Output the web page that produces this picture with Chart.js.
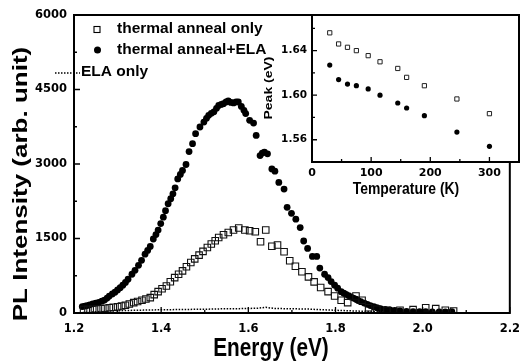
<!DOCTYPE html>
<html><head><meta charset="utf-8">
<script src="https://cdn.jsdelivr.net/npm/chart.js@4/dist/chart.umd.min.js"></script>
<style>
html,body{margin:0;padding:0;background:#fff;}
#wrap{position:relative;width:529px;height:364px;background:#fff;}
#main{position:absolute;left:0;top:0;width:529px;height:364px;}
#inset{position:absolute;left:240px;top:0;width:289px;height:210px;}
</style></head><body>
<div id="wrap"><canvas id="main" width="529" height="364"></canvas><canvas id="inset" width="289" height="210"></canvas></div>
<script>
// ---------- main panel data ----------
const annealOnlyE = [1.222,1.232,1.243,1.252,1.262,1.271,1.281,1.290,1.300,1.309,1.318,1.327,1.337,1.346,1.356,1.365,1.375,1.384,1.393,1.402,1.412,1.421,1.431,1.440,1.449,1.458,1.468,1.477,1.487,1.496,1.506,1.515,1.524,1.532,1.543,1.554,1.566,1.578,1.592,1.603,1.616,1.628,1.640,1.654,1.667,1.682,1.695,1.708,1.723,1.738,1.751,1.766,1.783,1.798,1.813,1.828,1.847,1.861,1.876,1.895,1.918,1.948,1.978,2.007,2.030,2.052,2.071];
const annealOnlyI = [70,72,75,80,87,96,107,117,127,140,155,180,208,232,256,282,309,370,430,488,545,630,713,780,848,930,1016,1090,1165,1240,1319,1390,1455,1521,1576,1622,1670,1711,1670,1656,1636,1434,1670,1345,1370,1232,1051,940,830,727,626,512,430,343,256,208,343,256,107,75,54,54,67,107,88,54,40];

const annealElaE = [1.219,1.225,1.230,1.236,1.243,1.250,1.257,1.264,1.270,1.276,1.281,1.288,1.294,1.300,1.306,1.312,1.318,1.324,1.333,1.340,1.348,1.355,1.363,1.369,1.375,1.382,1.388,1.393,1.399,1.405,1.410,1.416,1.422,1.427,1.432,1.438,1.444,1.449,1.457,1.464,1.472,1.479,1.489,1.498,1.504,1.509,1.515,1.521,1.527,1.532,1.538,1.543,1.549,1.554,1.560,1.566,1.572,1.577,1.584,1.590,1.594,1.603,1.612,1.618,1.627,1.632,1.637,1.644,1.654,1.661,1.670,1.682,1.689,1.699,1.709,1.719,1.727,1.736,1.747,1.757,1.764,1.775,1.783,1.790,1.798,1.805,1.813,1.819,1.824,1.830,1.835,1.841,1.847,1.852,1.858,1.866,1.873,1.880,1.888,1.895,1.903,1.914,1.925,1.936,1.948,1.963,1.978,1.993,2.007,2.022,2.038,2.052,2.067];
const annealElaI = [130,140,150,165,185,200,215,238,260,300,340,385,420,465,510,560,615,680,780,860,960,1060,1185,1260,1340,1490,1580,1670,1800,1930,2060,2200,2300,2400,2520,2700,2790,2870,2990,3250,3410,3610,3745,3845,3920,3980,4020,4050,4120,4180,4200,4215,4250,4270,4240,4230,4250,4250,4160,4080,4015,3880,3825,3575,3170,3220,3240,3205,2900,2855,2630,2495,2127,2006,1890,1720,1450,1300,1140,1140,905,780,713,632,560,499,430,400,377,350,323,300,277,250,228,200,175,150,128,108,88,72,61,50,40,32,27,27,27,23,20,22,27];

const elaOnlyE = [1.22,1.24,1.26,1.28,1.30,1.32,1.34,1.36,1.38,1.40,1.42,1.44,1.46,1.48,1.50,1.52,1.54,1.56,1.58,1.60,1.62,1.64,1.66,1.68,1.70,1.72,1.74,1.76,1.78,1.80,1.82,1.84,1.86,1.88,1.90,1.92,1.94,1.96,1.98,2.00,2.02,2.04,2.06];
const elaOnlyI = [10,20,30,38,45,50,55,58,62,65,66,70,72,74,76,80,84,86,88,92,95,115,90,88,86,82,78,70,62,55,48,42,36,30,25,22,20,18,16,15,14,12,10];

const mainXTicks = [1.2,1.4,1.6,1.8,2.0,2.2];
const mainXMinor = [1.3,1.5,1.7,1.9,2.1];
const mainYTicks = [0,1500,3000,4500,6000];
const mainYMinor = [750,2250,3750,5250];

// ---------- inset data ----------
const insetTemp = [30,45,60,75,95,115,145,160,190,245,300];
const insetPeakAnneal = [1.656,1.646,1.643,1.640,1.6355,1.630,1.624,1.616,1.6085,1.5966,1.5834];
const insetPeakAnnealEla = [1.627,1.614,1.610,1.6085,1.6056,1.600,1.593,1.5885,1.5816,1.5669,1.5541];
const insetXTicks = [0,100,200,300];
const insetXMinor = [50,150,250];
const insetYTicks = [1.56,1.60,1.64];
const insetYMinor = [1.58,1.62,1.66];

const legendLabels = ['thermal anneal only','thermal anneal+ELA','ELA only'];

const TXT = '"Liberation Sans", Arial, Helvetica, sans-serif';
const TICKFONT = '"DejaVu Sans", sans-serif';

function pts(xs, ys){ return xs.map((x,i)=>({x:x,y:ys[i]})); }

function drawText(ctx, text, x, y, size, squeeze, rotate){
  ctx.save();
  ctx.translate(x,y);
  if (rotate){ ctx.rotate(-Math.PI/2); ctx.scale(1, squeeze); }
  else ctx.scale(squeeze, 1);
  ctx.font = 'bold ' + size + 'px ' + TXT;
  ctx.fillStyle = '#000';
  ctx.textAlign = 'center';
  ctx.textBaseline = 'middle';
  ctx.fillText(text, 0, 0);
  ctx.restore();
}

function drawFrameTicks(chart, xMaj, xMin, yMaj, yMin, majLen, minLen, lw){
  const ctx = chart.ctx, a = chart.chartArea;
  const xs = chart.scales.x, ys = chart.scales.y;
  ctx.save();
  ctx.strokeStyle = '#000';
  ctx.lineWidth = 1.3;
  ctx.beginPath();
  xMaj.forEach(v=>{ const p = xs.getPixelForValue(v); ctx.moveTo(p, a.bottom); ctx.lineTo(p, a.bottom - majLen); });
  xMin.forEach(v=>{ const p = xs.getPixelForValue(v); ctx.moveTo(p, a.bottom); ctx.lineTo(p, a.bottom - minLen); });
  yMaj.forEach(v=>{ const p = ys.getPixelForValue(v); ctx.moveTo(a.left, p); ctx.lineTo(a.left + majLen, p); });
  yMin.forEach(v=>{ const p = ys.getPixelForValue(v); ctx.moveTo(a.left, p); ctx.lineTo(a.left + minLen, p); });
  ctx.stroke();
  ctx.lineWidth = lw;
  ctx.strokeRect(a.left, a.top, a.right - a.left, a.bottom - a.top);
  ctx.restore();
}

const mainPlugin = {
  id: 'mainDeco',
  afterDraw(chart){
    const ctx = chart.ctx;
    drawFrameTicks(chart, mainXTicks, mainXMinor, mainYTicks, mainYMinor, 6, 3, 2);
    // axis titles
    drawText(ctx, 'Energy (eV)', 271, 349, 26, 0.8, false);
    drawText(ctx, 'PL Intensity (arb. unit)', 22, 184, 26, 0.76, true);
    // legend
    ctx.save();
    ctx.fillStyle = '#000'; ctx.strokeStyle = '#000';
    ctx.lineWidth = 1.1;
    ctx.strokeRect(94, 26.5, 6, 6);
    ctx.beginPath(); ctx.arc(97.5, 50, 3.5, 0, Math.PI*2); ctx.fill();
    ctx.setLineDash([1.5,1.5]); ctx.lineWidth = 1.5;
    ctx.beginPath(); ctx.moveTo(55, 73); ctx.lineTo(80, 73); ctx.stroke();
    ctx.restore();
    ctx.save();
    ctx.font = 'bold 15.5px ' + TXT; ctx.fillStyle = '#000';
    ctx.textBaseline = 'middle'; ctx.textAlign = 'left';
    ctx.fillText(legendLabels[0], 117, 29);
    ctx.fillText(legendLabels[1], 117, 50);
    ctx.fillText(legendLabels[2], 81, 72);
    ctx.restore();
  }
};

new Chart(document.getElementById('main'), {
  type: 'scatter',
  data: { datasets: [
    { label: legendLabels[0], data: pts(annealOnlyE, annealOnlyI), pointStyle: 'rect', pointRadius: 4.6,
      borderColor: '#111', backgroundColor: 'rgba(0,0,0,0)', borderWidth: 1.1, showLine: false },
    { label: legendLabels[1], data: pts(annealElaE, annealElaI), pointStyle: 'circle', pointRadius: 3.4,
      borderColor: '#000', backgroundColor: '#000', borderWidth: 0, showLine: false },
    { label: legendLabels[2], data: pts(elaOnlyE, elaOnlyI), showLine: true, pointRadius: 0,
      borderColor: '#000', borderWidth: 1.5, borderDash: [1.5,1.5], tension: 0 }
  ]},
  options: {
    responsive: false, animation: false, devicePixelRatio: 1,
    layout: { padding: { top: 15, right: 10, left: 0, bottom: 0 } },
    plugins: { legend: { display: false }, tooltip: { enabled: false } },
    scales: {
      x: { type: 'linear', min: 1.2, max: 2.2,
        afterFit: s => { s.height = 51; },
        afterBuildTicks: s => { s.ticks = mainXTicks.map(v=>({value:v})); },
        grid: { display: false, drawTicks: false }, border: { display: false },
        ticks: { padding: 9, color: '#000', maxRotation: 0, font: { family: TICKFONT, weight: 'bold', size: 11.5 },
          callback: v => Number(v).toFixed(1) } },
      y: { type: 'linear', min: 0, max: 6000,
        afterFit: s => { s.width = 74; },
        afterBuildTicks: s => { s.ticks = mainYTicks.map(v=>({value:v})); },
        grid: { display: false, drawTicks: false }, border: { display: false },
        ticks: { padding: 7, color: '#000', font: { family: TICKFONT, weight: 'bold', size: 11.5 },
          callback: v => String(Math.round(v)) } }
    }
  },
  plugins: [mainPlugin]
});

const insetPlugin = {
  id: 'insetDeco',
  beforeDatasetsDraw(chart){
    const ctx = chart.ctx, a = chart.chartArea;
    ctx.save(); ctx.fillStyle = '#fff';
    ctx.fillRect(a.left, a.top, a.right - a.left, a.bottom - a.top);
    ctx.restore();
  },
  afterDraw(chart){
    const ctx = chart.ctx;
    drawFrameTicks(chart, insetXTicks, insetXMinor, insetYTicks, insetYMinor, 5, 3, 2);
    drawText(ctx, 'Temperature (K)', 166, 190, 16, 0.87, false);
    drawText(ctx, 'Peak (eV)', 29, 88, 14, 0.8, true);
  }
};

new Chart(document.getElementById('inset'), {
  type: 'scatter',
  data: { datasets: [
    { data: pts(insetTemp, insetPeakAnneal), pointStyle: 'rect', pointRadius: 3,
      borderColor: '#222', backgroundColor: 'rgba(0,0,0,0)', borderWidth: 1 },
    { data: pts(insetTemp, insetPeakAnnealEla), pointStyle: 'circle', pointRadius: 2.6,
      borderColor: '#000', backgroundColor: '#000', borderWidth: 0 }
  ]},
  options: {
    responsive: false, animation: false, devicePixelRatio: 1,
    layout: { padding: { top: 15, right: 10, left: 0, bottom: 0 } },
    plugins: { legend: { display: false }, tooltip: { enabled: false } },
    scales: {
      x: { type: 'linear', min: 0, max: 350,
        afterFit: s => { s.height = 48; },
        afterBuildTicks: s => { s.ticks = insetXTicks.map(v=>({value:v})); },
        grid: { display: false, drawTicks: false }, border: { display: false },
        ticks: { padding: 5, color: '#000', maxRotation: 0, font: { family: TICKFONT, weight: 'bold', size: 11 },
          callback: v => String(Math.round(v)) } },
      y: { type: 'linear', min: 1.54, max: 1.672,
        afterFit: s => { s.width = 72; },
        afterBuildTicks: s => { s.ticks = insetYTicks.map(v=>({value:v})); },
        grid: { display: false, drawTicks: false }, border: { display: false },
        ticks: { padding: 5, color: '#000', font: { family: TICKFONT, weight: 'bold', size: 10.5 },
          callback: v => Number(v).toFixed(2) } }
    }
  },
  plugins: [insetPlugin]
});
</script>
</body></html>
